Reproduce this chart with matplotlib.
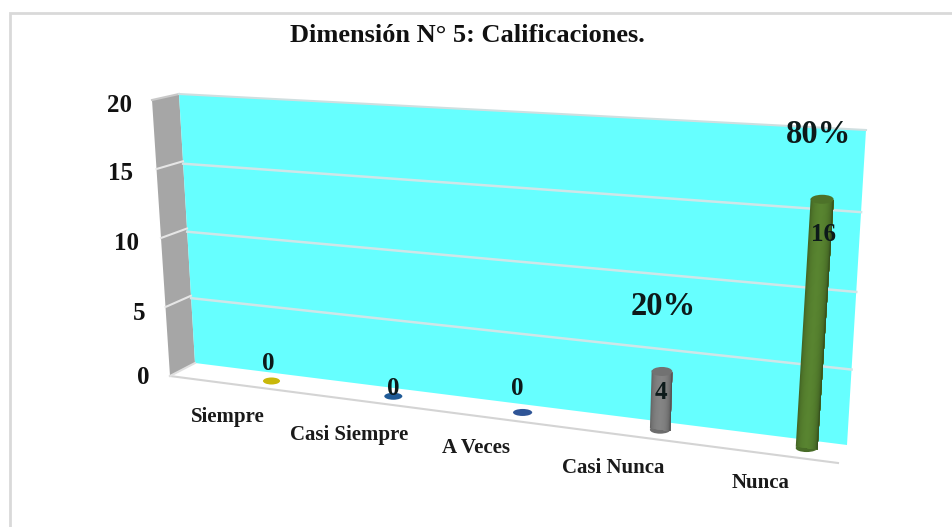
import numpy as np
import matplotlib
matplotlib.use('Agg')
import matplotlib.pyplot as plt
from matplotlib.patches import Polygon, Rectangle, Ellipse
from matplotlib.transforms import Transform

categories = ['Siempre', 'Casi Siempre', 'A Veces', 'Casi Nunca', 'Nunca']
values = [0, 0, 0, 4, 16]
percents = [0, 0, 0, 20, 80]
yticks = [0, 5, 10, 15, 20]
title = 'Dimensión N° 5: Calificaciones.'

bar_colors = ['#c9b80a', '#1f5a96', '#2f5597', '#7f7f7f', '#557f2e']
# label placement in the picture, not data
cat_label_xy = [(228, 417), (349, 435), (476, 448), (613, 468), (761, 483)]
value_offsets = [(-3, 17), (0, 8), (-5, 24), (-1, -21), (1, -35)]
percent_offsets = [None, None, None, (1, 65), (-4, 65)]
tick_dx = [-21, -20, -22, -23, -20]
tick_dy = [2, 7, 6, 5, 6]

# calibration of the fake 3D planes, in image pixels
wall_src = [(0, 0), (1, 0), (1, 20), (0, 20)]
wall_dst = [(195, 363), (847, 445), (866, 130), (179, 94)]
bar_src = [(0, 0), (1, 0), (2, 0), (3, 0), (4, 0), (3, 4), (4, 16), (0, 20)]
bar_dst = [(272, 381), (393, 397), (522, 413), (660, 428), (808, 447), (661, 373), (822, 200), (259, 100)]
FONT = 'Liberation Serif'


class Plane(Transform):
    input_dims = 2
    output_dims = 2

    def __init__(self, src, dst):
        super().__init__()
        A, b = [], []
        for (x, y), (u, v) in zip(src, dst):
            A.append([x, y, 1, 0, 0, 0, -u*x, -u*y])
            A.append([0, 0, 0, x, y, 1, -v*x, -v*y])
            b += [u, v]
        h = np.linalg.lstsq(np.array(A, float), np.array(b, float), rcond=None)[0]
        self.H = np.append(h, 1).reshape(3, 3)

    def transform_non_affine(self, pts):
        pts = np.asarray(pts, float)
        q = np.c_[pts, np.ones(len(pts))] @ self.H.T
        return q[:, :2] / q[:, 2:]


def shade(color, k):
    rgb = np.array(matplotlib.colors.to_rgb(color))
    return tuple(np.clip(rgb*k, 0, 1))


def cap(ax, plane, i, v, color, hw, height, z):
    # flat on screen, centred on the projected point
    left, mid, right = plane.transform_non_affine([(i-hw, v), (i, v), (i+hw, v)])
    ax.add_patch(Ellipse(mid, right[0]-left[0], height, fc=color, lw=0, zorder=z))


def cylinder(ax, plane, tr, i, v, color, hw=0.072):
    if v == 0:
        cap(ax, plane, i, 0, color, hw, 7, 4)
        return
    cap(ax, plane, i, 0, shade(color, 0.85), hw, 8, 4)
    # strips painted left to right, each running to the right edge so no seams show
    edges = np.linspace(-1, 1, 25)
    for a, b in zip(edges[:-1], edges[1:]):
        m = (a+b)/2
        k = 0.62 + 0.42*np.sqrt(max(0, 1 - (m + 0.05)**2))
        pts = [(i + a*hw, 0), (i + hw, 0), (i + hw, v), (i + a*hw, v)]
        ax.add_patch(Polygon(pts, fc=shade(color, k), lw=0, transform=tr, zorder=5))
    cap(ax, plane, i, v, shade(color, 0.9), hw, 9, 6)


def main():
    fig = plt.figure(figsize=(9.52, 5.27), dpi=100)
    ax = fig.add_axes([0, 0, 1, 1])
    ax.set_xlim(0, 952)
    ax.set_ylim(527, 0)
    ax.axis('off')

    wall = Plane(wall_src, wall_dst) + ax.transData
    bar_plane = Plane(bar_src, bar_dst)
    bars = bar_plane + ax.transData

    ax.add_patch(Rectangle((9.5, 12.5), 960, 530, fc='white', ec='#d9d9d9', lw=2, zorder=0))

    # side wall and floor
    ax.add_patch(Polygon([(152, 100), (179, 94), (195, 363), (170, 376)], fc='#a6a6a6', lw=0, zorder=1))
    ax.plot([152, 179], [100, 94], color='#c9c9c9', lw=1.5, zorder=2)
    ax.plot([170, 838], [376, 463], color='#d4d4d4', lw=1.5, zorder=2)
    ax.plot([170, 195], [376, 363], color='#e0e0e0', lw=1.5, zorder=2)
    for v in yticks[1:-1]:
        f = v/20
        ax.plot([170 - 18*f, 195 - 16*f], [376 - 276*f, 363 - 269*f], color='#e6e6e6', lw=1.5, zorder=2)

    # back wall
    ax.add_patch(Polygon([(0, 0), (1, 0), (1, 20), (0, 20)], fc='#66ffff', lw=0, transform=wall, zorder=1))
    ax.plot([0, 1], [20, 20], color='#cfdfe0', lw=1.5, transform=wall, zorder=2)
    for v in yticks[1:-1]:
        ax.plot([0, 1], [v, v], color='#cfe6e8', lw=1.8, transform=wall, zorder=2)

    for i, v in enumerate(values):
        cylinder(ax, bar_plane, bars, i, v, bar_colors[i])

    for n, v in enumerate(yticks):
        f = v/20
        ax.text(170 - 18*f + tick_dx[n], 376 - 276*f + tick_dy[n], str(v), family=FONT, weight='bold', size=18,
                ha='right', va='center', color='#111111', zorder=8)
    for name, (x, y) in zip(categories, cat_label_xy):
        ax.text(x, y, name, family=FONT, weight='bold', size=15, ha='center', va='center',
                color='#1a1a1a', zorder=8)
    for i, v in enumerate(values):
        ax.annotate(str(v), xy=(i, v), xycoords=bars, xytext=value_offsets[i], textcoords='offset pixels',
                    family=FONT, weight='bold', size=18, ha='center', va='center', color='#0d1a1a', zorder=8)
        if percents[i]:
            ax.annotate(f'{percents[i]}%', xy=(i, v), xycoords=bars, xytext=percent_offsets[i],
                        textcoords='offset pixels', family=FONT, weight='bold', size=23.5,
                        ha='center', va='center', color='#0d1a1a', zorder=8)
    ax.text(467, 36, title, family=FONT, weight='bold', size=19, ha='center', va='center', color='#111111')

    fig.savefig('out.png', dpi=100)


if __name__ == '__main__': main()
